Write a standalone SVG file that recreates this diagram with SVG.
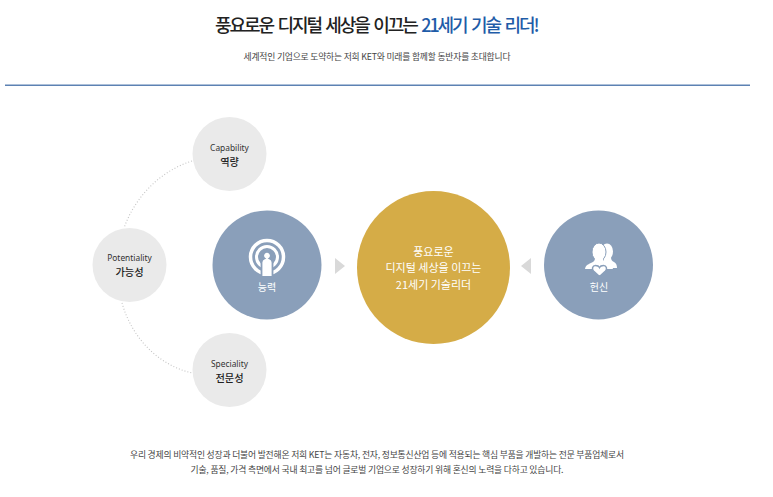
<svg xmlns="http://www.w3.org/2000/svg" width="773" height="497" viewBox="0 0 773 497">
<style>
text{font-family:"Noto Sans CJK KR","Noto Sans",sans-serif;text-anchor:middle}
.title{font-size:18px;font-weight:500;fill:#222;letter-spacing:-0.6px;word-spacing:2.5px}
.small{font-size:8.8px;fill:#444}
.en{font-size:8.4px;fill:#333;font-family:"Noto Sans","Noto Sans CJK KR",sans-serif}
.ko{font-size:10.2px;fill:#222;font-weight:500}
.w{fill:#fff}
.grey{fill:#eaeaea}
.blue{fill:#8a9fba}
.arrow{fill:#d9d9d9}
.dots{fill:none;stroke:#c4c4c4;stroke-width:1.100;stroke-dasharray:1 2}
</style>
<rect width="773" height="497" fill="#fff"/>
<g id="header">
<text class="title" x="377" y="32" textLength="324" lengthAdjust="spacing">풍요로운 디지털 세상을 이끄는 <tspan fill="#1f5ca8">21세기 기술 리더!</tspan></text>
<text class="small" x="377" y="60" textLength="267" lengthAdjust="spacing">세계적인 기업으로 도약하는 저희 KET와 미래를 함께할 동반자를 초대합니다</text>
<rect x="5" y="84.500" width="745" height="1.500" fill="#5d82b3"/>
</g>
<g id="connectors">
<path class="dots" d="M192 161C160 171 135 197 124 228"/>
<path class="dots" d="M122 303C132 338 158 365 192 373"/>
<polygon class="arrow" points="335,258 345,266 335,274"/>
<polygon class="arrow" points="531,258 521,266 531,274"/>
</g>
<g id="capability">
<circle class="grey" cx="229.500" cy="154" r="37"/>
<text class="en" x="229.500" y="151">Capability</text>
<text class="ko" x="229.500" y="166">역량</text>
</g>
<g id="potentiality">
<circle class="grey" cx="129.500" cy="265" r="37"/>
<text class="en" x="129.500" y="261">Potentiality</text>
<text class="ko" x="129.500" y="276">가능성</text>
</g>
<g id="speciality">
<circle class="grey" cx="229.500" cy="370" r="37"/>
<text class="en" x="229.500" y="366.500">Speciality</text>
<text class="ko" x="229.500" y="381.500">전문성</text>
</g>
<g id="ability">
<circle class="blue" cx="267" cy="265" r="54.500"/>
<circle cx="267" cy="257" r="16.500" fill="none" stroke="#fff" stroke-width="3.500"/>
<circle cx="267" cy="257" r="10.500" fill="none" stroke="#fff" stroke-width="3"/>
<path d="M261.500 277V262.500Q261.500 259.500 264.500 258.500A3.800 3.800 0 1 1 269.500 258.500Q272.500 259.500 272.500 262.500V277Z" fill="#fff" stroke="#8a9fba" stroke-width="1.800"/>
<text class="w" x="267" y="291" font-size="10">능력</text>
</g>
<g id="main">
<circle cx="433.500" cy="267.500" r="76.500" fill="#d5ac47"/>
<text class="w" x="433.500" y="255.500" font-size="11">풍요로운</text>
<text class="w" x="433.500" y="272" font-size="11">디지털 세상을 이끄는</text>
<text class="w" x="433.500" y="288.500" font-size="11">21세기 기술리더</text>
</g>
<g id="devotion">
<circle class="blue" cx="598.500" cy="265" r="54.500"/>
<ellipse cx="607" cy="251.500" rx="6" ry="8" fill="#fff"/>
<path d="M604 257H611C611 260 612 261 614 262C616 263 617 265 617 268L610 268L604 264Z" fill="#fff"/>
<ellipse cx="599" cy="252" rx="7" ry="9" fill="#fff" stroke="#8a9fba" stroke-width="1"/>
<path d="M585 269C585.500 265 589 264 592 262.500C594 261.500 595 260 595 258L603 258C603 260 604 261.500 606 262.500C609 264 612.500 265 613 269Z" fill="#fff"/>
<path d="M599.500 276.500L593.500 271C591.500 269 592.500 265.500 595.500 265.500C597.500 265.500 599 266.500 599.500 267.500C600 266.500 601.500 265.500 603.500 265.500C606.500 265.500 607.500 269 605.500 271Z" fill="#fff" stroke="#8a9fba" stroke-width="1.500"/>
<text class="w" x="599" y="291" font-size="10">헌신</text>
</g>
<g id="footer">
<text class="small" x="377" y="458" textLength="494" lengthAdjust="spacing">우리 경제의 비약적인 성장과 더불어 발전해온 저희 KET는 자동차, 전자, 정보통신산업 등에 적용되는 핵심 부품을 개발하는 전문 부품업체로서</text>
<text class="small" x="377" y="473" textLength="373" lengthAdjust="spacing">기술, 품질, 가격 측면에서 국내 최고를 넘어 글로벌 기업으로 성장하기 위해 혼신의 노력을 다하고 있습니다.</text>
</g>
</svg>
